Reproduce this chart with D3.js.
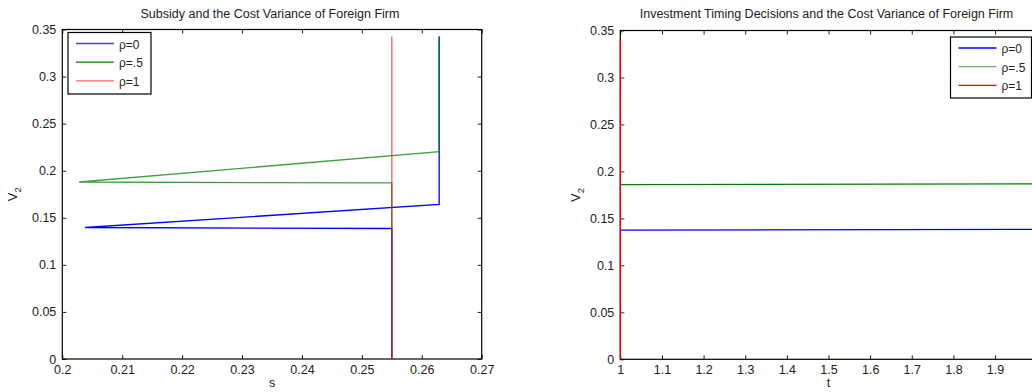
<!DOCTYPE html>
<html><head><meta charset="utf-8">
<script src="https://cdn.jsdelivr.net/npm/d3@7"></script>
<style>body{margin:0;background:#fff}svg{display:block}text{font-family:"Liberation Sans",Arial,sans-serif;fill:#222}</style>
</head><body>
<svg id="c" width="1032" height="392"></svg>
<script>
// ---- Left chart data: Subsidy s vs V2 ----
const sBlue  = [0.255, 0.255, 0.2038, 0.2629, 0.2629];
const vBlue  = [0.0, 0.1386, 0.1397, 0.1641, 0.3426];
const sGreen = [0.255, 0.255, 0.2028, 0.2629, 0.2629];
const vGreen = [0.0, 0.1870, 0.1880, 0.2203, 0.3426];
const sRed   = [0.255, 0.255];
const vRed   = [0.0, 0.3426];
const sTicks = [0.2, 0.21, 0.22, 0.23, 0.24, 0.25, 0.26, 0.27];
// ---- Right chart data: timing t vs V2 ----
const tBlue  = [1, 2];
const wBlue  = [0.1376, 0.1384];
const tGreen = [1, 2];
const wGreen = [0.1860, 0.1868];
const tRed   = [1, 1];
const wRed   = [0.0, 0.3405];
const tTicks = [1, 1.1, 1.2, 1.3, 1.4, 1.5, 1.6, 1.7, 1.8, 1.9];
const vTicks = [0, 0.05, 0.1, 0.15, 0.2, 0.25, 0.3, 0.35];
const legendLabels = ["ρ=0", "ρ=.5", "ρ=1"];
const colors = ["#0000ff", "#008000", "#ff0000"];

const svg = d3.select("#c");
const fmt = d => String(+d.toFixed(3));

function panel(opt) {
  const x = d3.scaleLinear().domain(opt.xd).range([opt.x0, opt.x1]);
  const y = d3.scaleLinear().domain([0, 0.35]).range([opt.y1, opt.y0]);
  const g = svg.append("g");
  const tk = 4;
  const ax = a => a.tickSizeOuter(0).tickSizeInner(-tk).tickPadding(6);
  g.append("g").attr("transform", `translate(0,${opt.y1})`)
    .call(ax(d3.axisBottom(x)).tickValues(opt.xt).tickFormat(fmt));
  g.append("g").attr("transform", `translate(0,${opt.y0})`)
    .call(ax(d3.axisTop(x)).tickValues(opt.xt).tickFormat(""));
  g.append("g").attr("transform", `translate(${opt.x0},0)`)
    .call(ax(d3.axisLeft(y)).tickValues(vTicks).tickFormat(fmt));
  g.append("g").attr("transform", `translate(${opt.x1},0)`)
    .call(ax(d3.axisRight(y)).tickValues(vTicks).tickFormat(""));
  g.selectAll(".domain").remove();
  g.selectAll(".tick line").attr("stroke", "#222");
  g.selectAll(".tick text").attr("font-size", 12.5).attr("fill", "#222");
  g.append("rect").attr("x", opt.x0).attr("y", opt.y0)
    .attr("width", opt.x1 - opt.x0).attr("height", opt.y1 - opt.y0)
    .attr("fill", "none").attr("stroke", "#000").attr("stroke-width", 1.2);
  const line = d3.line().x(d => x(d[0])).y(d => y(d[1]));
  opt.series.forEach((s, i) => {
    g.append("path").datum(s.xs.map((v, j) => [v, s.ys[j]]))
      .attr("d", line).attr("fill", "none").attr("stroke", colors[i])
      .attr("stroke-opacity", s.op).attr("stroke-width", 1.3);
  });
  g.append("text").attr("x", (opt.x0 + opt.x1) / 2 - 2).attr("y", 18)
    .attr("text-anchor", "middle").attr("font-size", 12.5).text(opt.title);
  g.append("text").attr("x", (opt.x0 + opt.x1) / 2).attr("y", 387)
    .attr("text-anchor", "middle").attr("font-size", 12.5).text(opt.xlabel);
  const yl = g.append("text").attr("transform", `translate(${opt.ylx},${(opt.y0 + opt.y1) / 2}) rotate(-90)`)
    .attr("text-anchor", "middle").attr("font-size", 13);
  yl.append("tspan").text("V");
  yl.append("tspan").attr("font-size", 9.5).attr("dy", 4).text("2");
  const L = opt.legend;
  g.append("rect").attr("x", L.x).attr("y", L.y).attr("width", L.w).attr("height", L.h)
    .attr("fill", "#fff").attr("stroke", "#000").attr("stroke-width", 1.2);
  legendLabels.forEach((lab, i) => {
    const yy = L.y + 11 + i * 18.7;
    g.append("line").attr("x1", L.x + 8).attr("x2", L.x + 46).attr("y1", yy).attr("y2", yy)
      .attr("stroke", colors[i]).attr("stroke-opacity", L.op[i]).attr("stroke-width", 1.3);
    g.append("text").attr("x", L.x + 51).attr("y", yy + 5).attr("font-size", 12).text(lab);
  });
}

panel({
  xd: [0.2, 0.27], x0: 62.3, x1: 481.7, y0: 29.5, y1: 359, xt: sTicks,
  title: "Subsidy and the Cost Variance of Foreign Firm", xlabel: "s", ylx: 17,
  series: [{xs: sBlue, ys: vBlue, op: 1}, {xs: sGreen, ys: vGreen, op: 0.75}, {xs: sRed, ys: vRed, op: 0.65}],
  legend: {x: 68, y: 32.5, w: 83, h: 61.5, op: [0.75, 1, 0.6]}
});
panel({
  xd: [1, 2], x0: 620.3, x1: 1036.7, y0: 30.5, y1: 359.3, xt: tTicks,
  title: "Investment Timing Decisions and the Cost Variance of Foreign Firm", xlabel: "t", ylx: 580,
  series: [{xs: tBlue, ys: wBlue, op: 1}, {xs: tGreen, ys: wGreen, op: 1}, {xs: tRed, ys: wRed, op: 1}],
  legend: {x: 950.5, y: 37, w: 81, h: 61, op: [1, 0.6, 1]}
});
</script>
</body></html>
